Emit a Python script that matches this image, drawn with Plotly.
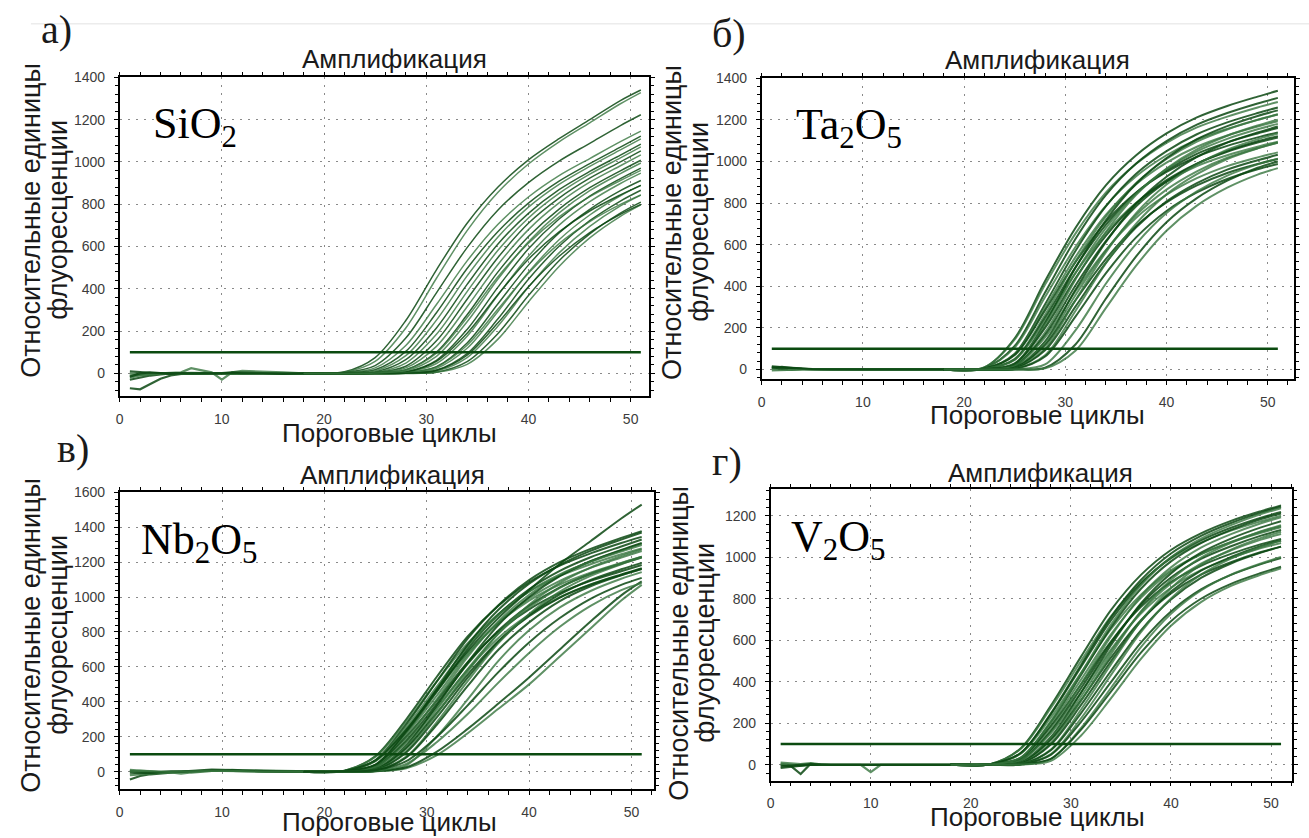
import plotly.graph_objects as go

W, H = 1309, 838
DX, DY = -3, -4  # small page offset compensation (pixels)

# ---------------- data ----------------
RISE_X = [18, 22, 25, 28, 31, 34, 37, 40, 43, 46, 49, 51]
BASE_X = [1, 2, 3, 4, 5, 6, 7, 8, 9, 10, 11, 12, 14, 16, 18, 20]
THRESH_X = [1, 51]
THRESHOLD = [100, 100]

X_TICKS = [0, 10, 20, 30, 40, 50]

# Panel а) SiO2
SIO2_CURVES = [
    [0, 8, 75, 250, 490, 710, 880, 1010, 1110, 1200, 1290, 1340],
    [0, 6, 57, 215, 450, 675, 855, 990, 1095, 1185, 1275, 1328],
    [0, 4, 37, 167, 381, 595, 772, 902, 1004, 1088, 1172, 1223],
    [0, 3, 26, 132, 326, 532, 704, 834, 935, 1016, 1096, 1146],
    [0, 2, 17, 104, 287, 496, 670, 805, 909, 992, 1070, 1122],
    [0, 1, 12, 84, 252, 461, 644, 786, 894, 979, 1057, 1109],
    [0, 1, 7, 65, 215, 421, 611, 757, 869, 955, 1032, 1084],
    [0, 0, 5, 49, 185, 387, 581, 735, 851, 942, 1019, 1071],
    [0, 0, 3, 34, 154, 351, 547, 710, 829, 923, 1000, 1052],
    [0, 0, 3, 26, 128, 315, 514, 680, 806, 904, 982, 1033],
    [0, 0, 2, 17, 101, 277, 479, 647, 777, 878, 958, 1008],
    [0, 0, 1, 12, 81, 244, 445, 622, 759, 864, 945, 995],
    [0, 0, 1, 7, 62, 208, 407, 589, 730, 838, 921, 971],
    [0, 0, 0, 5, 47, 176, 369, 554, 701, 812, 898, 947],
    [0, 0, 0, 3, 32, 144, 328, 512, 664, 776, 864, 912],
    [0, 0, 0, 2, 24, 119, 292, 478, 632, 749, 840, 889],
    [0, 0, 0, 2, 16, 94, 257, 445, 601, 722, 815, 866],
    [0, 0, 0, 1, 11, 75, 223, 408, 570, 695, 792, 843],
    [0, 0, 0, 1, 6, 56, 188, 368, 533, 660, 758, 810],
    [0, 0, 0, 0, 5, 43, 161, 338, 506, 641, 743, 797],
    [0, 0, 1, 6, 57, 190, 372, 540, 669, 768, 844, 889],
    [0, 0, 0, 3, 30, 133, 303, 474, 614, 718, 799, 844],
    [0, 0, 0, 1, 14, 86, 238, 410, 554, 666, 752, 799],
    [0, 0, 2, 16, 96, 264, 456, 616, 740, 836, 912, 960],
]
SIO2_BASE = [
    [-70, -75, -50, -25, -10, -2, 0, 0, 0, 0, 0, 2, 2, 0, 0, 0],
    [-10, -5, -3, 0, 2, 5, 25, 15, 5, -30, 5, 12, 10, 5, 0, 0],
    [-30, -20, -10, -5, 0, 0, 0, 0, 0, 0, 0, 0, 0, 0, 0, 0],
    [-20, -10, -5, -2, 0, 2, 3, 2, 0, -2, 0, 2, 3, 2, 0, 0],
    [10, 5, 3, 2, 0, 0, -2, 0, 0, 2, 5, 3, 2, 0, 0, 0],
    [0, -5, -2, 0, -3, -2, 0, 2, 0, 0, -2, 0, 2, 0, 0, 0],
    [-15, 0, 5, 0, -2, 0, 0, -3, 0, 0, 3, 0, 0, -2, 0, 0],
]

# Panel б) Ta2O5
TA2O5_CURVES = [
    [0, 10, 150, 425, 680, 885, 1030, 1135, 1212, 1267, 1312, 1340],
    [0, 10, 144, 408, 653, 850, 989, 1090, 1164, 1216, 1260, 1286],
    [0, 6, 113, 370, 627, 838, 990, 1098, 1177, 1233, 1279, 1306],
    [0, 6, 106, 348, 589, 787, 929, 1030, 1105, 1157, 1201, 1226],
    [0, 3, 76, 314, 570, 784, 941, 1050, 1131, 1188, 1233, 1260],
    [0, 3, 72, 297, 540, 743, 891, 995, 1071, 1125, 1168, 1193],
    [0, 3, 69, 284, 516, 710, 851, 950, 1023, 1075, 1116, 1140],
    [0, 2, 51, 263, 519, 735, 897, 1012, 1096, 1154, 1200, 1227],
    [0, 2, 48, 249, 491, 695, 849, 957, 1037, 1092, 1135, 1161],
    [0, 2, 46, 235, 463, 656, 801, 903, 978, 1030, 1071, 1095],
    [0, 1, 29, 223, 489, 717, 893, 1017, 1107, 1170, 1219, 1246],
    [0, 1, 27, 212, 464, 680, 846, 963, 1049, 1109, 1155, 1181],
    [0, 1, 26, 200, 438, 642, 799, 910, 990, 1047, 1091, 1115],
    [0, 1, 18, 178, 432, 661, 840, 966, 1058, 1124, 1173, 1201],
    [0, 1, 17, 166, 404, 617, 785, 903, 989, 1051, 1097, 1122],
    [0, 1, 16, 154, 376, 574, 730, 840, 920, 978, 1020, 1044],
    [0, 0, 9, 135, 383, 612, 797, 927, 1022, 1091, 1140, 1168],
    [0, 0, 8, 126, 357, 571, 743, 865, 953, 1018, 1064, 1090],
    [0, 0, 8, 117, 332, 530, 690, 803, 885, 945, 988, 1012],
    [0, 0, 5, 101, 333, 563, 752, 889, 986, 1057, 1107, 1135],
    [0, 0, 5, 92, 302, 512, 684, 808, 896, 961, 1006, 1032],
    [0, 0, 3, 68, 281, 510, 701, 842, 939, 1012, 1063, 1091],
    [0, 0, 2, 62, 254, 462, 635, 762, 851, 916, 963, 988],
    [0, 0, 1, 24, 188, 412, 604, 752, 856, 932, 986, 1014],
    [0, 0, 0, 8, 120, 340, 544, 708, 824, 908, 970, 1000],
    [0, 0, 0, 5, 90, 295, 499, 667, 788, 874, 937, 968],
]
TA2O5_BASE = [
    [15, 10, 5, 3, 2, 0, 0, 0, 0, 0, 0, 0, 0, 0, 0, 0],
    [-5, -3, 0, 0, 0, 0, 0, 0, 0, 0, 0, 0, 0, 0, 0, 0],
    [8, 12, 6, 2, 0, 0, 1, 0, 0, 0, 0, 0, 0, 0, 0, 0],
    [3, 0, -2, 0, 1, 0, 0, 0, -1, 0, 0, 0, 0, 0, 0, 0],
    [10, 5, 8, 4, 2, 1, 0, 0, 0, 0, 0, 0, 0, 0, 0, 0],
]

# Panel в) Nb2O5
NB2O5_CURVES = [
    [0, 6, 90, 300, 545, 775, 950, 1085, 1180, 1250, 1310, 1345],
    [0, 6, 86, 285, 518, 736, 903, 1031, 1121, 1188, 1245, 1278],
    [0, 4, 67, 271, 518, 762, 953, 1097, 1200, 1276, 1339, 1378],
    [0, 4, 60, 242, 463, 681, 851, 980, 1072, 1140, 1196, 1231],
    [0, 3, 40, 225, 460, 705, 900, 1045, 1150, 1228, 1290, 1330],
    [0, 3, 38, 214, 437, 670, 855, 993, 1093, 1167, 1226, 1264],
    [0, 3, 36, 200, 409, 627, 801, 930, 1024, 1093, 1148, 1184],
    [0, 2, 28, 186, 416, 658, 861, 1013, 1124, 1205, 1267, 1307],
    [0, 2, 26, 175, 391, 618, 809, 951, 1056, 1132, 1190, 1228],
    [0, 2, 25, 165, 370, 585, 766, 900, 999, 1071, 1126, 1162],
    [0, 2, 15, 150, 380, 625, 840, 1000, 1120, 1205, 1270, 1310],
    [0, 2, 14, 141, 357, 588, 790, 940, 1053, 1133, 1194, 1231],
    [0, 2, 13, 134, 338, 556, 748, 890, 997, 1072, 1130, 1166],
    [0, 1, 10, 118, 333, 573, 792, 956, 1081, 1169, 1235, 1274],
    [0, 1, 9, 110, 313, 538, 743, 897, 1015, 1098, 1159, 1196],
    [0, 1, 6, 86, 285, 518, 736, 903, 1031, 1121, 1188, 1226],
    [0, 1, 5, 81, 270, 491, 698, 855, 977, 1062, 1125, 1161],
    [0, 4, 63, 255, 488, 718, 897, 1033, 1130, 1202, 1261, 1298],
    [0, 3, 41, 232, 474, 726, 927, 1076, 1185, 1265, 1329, 1370],
    [0, 0, 4, 36, 203, 414, 635, 810, 941, 1035, 1105, 1143],
    [0, 5, 65, 240, 470, 690, 880, 1040, 1190, 1320, 1450, 1530],
    [0, 0, 2, 20, 95, 220, 360, 500, 660, 820, 980, 1070],
    [0, 0, 3, 25, 115, 245, 390, 540, 700, 860, 1010, 1090],
    [0, 0, 5, 45, 170, 330, 510, 680, 830, 950, 1040, 1080],
    [0, 1, 8, 60, 200, 380, 570, 740, 880, 990, 1070, 1110],
]
NB2O5_BASE = [
    [-45, -25, -15, -8, -5, -2, 0, 5, 8, 8, 5, 3, 2, 0, 0, 0],
    [-20, -15, -10, -5, -3, 0, 2, 5, 10, 12, 10, 8, 5, 3, 0, 0],
    [5, 0, -5, -2, 0, 0, 3, 6, 8, 10, 8, 5, 3, 2, 0, 0],
    [10, 5, 0, -3, -5, -12, -5, 0, 5, 5, 3, 2, 0, 0, 0, 0],
    [-5, -8, -5, 0, 2, 0, 5, 8, 12, 10, 8, 5, 3, 0, 0, 0],
    [0, 5, 3, 0, -2, 0, 2, 4, 6, 6, 4, 2, 0, 0, 0, 0],
]

# Panel г) V2O5
V2O5_CURVES = [
    [0, 4, 80, 285, 520, 745, 915, 1035, 1115, 1175, 1222, 1250],
    [0, 4, 77, 274, 499, 715, 878, 994, 1070, 1128, 1173, 1200],
    [0, 3, 57, 243, 470, 696, 872, 998, 1081, 1142, 1191, 1218],
    [0, 3, 53, 228, 442, 653, 819, 937, 1015, 1072, 1118, 1144],
    [0, 2, 34, 206, 431, 662, 848, 980, 1068, 1132, 1184, 1211],
    [0, 2, 33, 195, 409, 628, 804, 930, 1014, 1074, 1123, 1149],
    [0, 2, 31, 185, 387, 594, 761, 880, 959, 1016, 1063, 1088],
    [0, 1, 23, 170, 388, 619, 813, 951, 1046, 1111, 1164, 1192],
    [0, 1, 22, 161, 368, 587, 771, 902, 992, 1053, 1104, 1131],
    [0, 1, 21, 152, 348, 555, 729, 853, 938, 996, 1044, 1069],
    [0, 1, 12, 134, 346, 576, 778, 922, 1022, 1090, 1144, 1173],
    [0, 1, 11, 127, 328, 546, 737, 874, 969, 1033, 1085, 1112],
    [0, 1, 10, 120, 310, 516, 697, 826, 916, 976, 1025, 1051],
    [0, 0, 8, 105, 307, 532, 739, 891, 998, 1069, 1125, 1154],
    [0, 0, 7, 98, 287, 498, 692, 835, 935, 1001, 1054, 1081],
    [0, 0, 4, 74, 265, 484, 693, 851, 963, 1037, 1093, 1123],
    [0, 0, 3, 70, 248, 452, 648, 796, 900, 970, 1022, 1051],
    [0, 0, 3, 52, 223, 432, 639, 801, 916, 993, 1049, 1080],
    [0, 0, 2, 48, 206, 398, 589, 739, 845, 915, 967, 996],
    [0, 0, 2, 29, 176, 370, 567, 727, 840, 916, 970, 1001],
    [0, 0, 2, 28, 168, 352, 540, 692, 800, 872, 924, 954],
    [0, 0, 1, 19, 140, 320, 510, 670, 784, 862, 916, 947],
    [0, 3, 58, 248, 480, 710, 890, 1018, 1103, 1165, 1215, 1243],
    [0, 2, 35, 210, 440, 675, 865, 1000, 1090, 1155, 1208, 1236],
]
V2O5_BASE = [
    [0, -5, -45, 5, 0, 0, 0, 0, 0, 0, 0, 0, 0, 0, 0, 0],
    [5, 0, -5, 0, 0, 0, 0, 0, 0, -35, 0, 0, 0, 0, 0, 0],
    [-15, -10, -5, 0, 0, 0, 0, 0, 0, 0, 0, 0, 0, 0, 0, 0],
    [10, 8, 3, 8, 2, 0, 0, 0, 0, 0, 0, 0, 0, 0, 0, 0],
    [-8, -3, 0, 3, 0, 0, 0, 0, 0, 0, 0, 0, 0, 0, 0, 0],
]

PANEL_LETTERS = ["а)", "б)", "в)", "г)"]
MATERIALS = ["SiO<sub>2</sub>", "Ta<sub>2</sub>O<sub>5</sub>",
             "Nb<sub>2</sub>O<sub>5</sub>", "V<sub>2</sub>O<sub>5</sub>"]
TITLE = "Амплификация"
X_TITLE = "Пороговые циклы"
Y_TITLE_1 = "Относительные единицы"
Y_TITLE_2 = "флуоресценции"

# ---------------- layout geometry (pixels) ----------------
PANELS = [
    dict(curves=SIO2_CURVES, base=SIO2_BASE, px=(119, 650), py=(74, 396),
         xr=[0, 51.8], yr=[-108, 1400], width=1.5),
    dict(curves=TA2O5_CURVES, base=TA2O5_BASE, px=(763, 1297), py=(75, 379),
         xr=[0, 52.6], yr=[-48, 1400], width=2.0),
    dict(curves=NB2O5_CURVES, base=NB2O5_BASE, px=(119, 655), py=(493, 793),
         xr=[0, 52.2], yr=[-102, 1600], width=2.0),
    dict(curves=V2O5_CURVES, base=V2O5_BASE, px=(772, 1295), py=(490, 784),
         xr=[0, 52.1], yr=[-76, 1327], width=2.0),
]

SANS = "Liberation Sans, Arial, sans-serif"
NARROW = "Liberation Sans Narrow, Arial Narrow, Liberation Sans, sans-serif"
SERIF = "Liberation Serif, Times New Roman, serif"

DARK = "rgba(10,72,18,0.85)"
LIGHT = "rgba(55,118,62,0.80)"
THR_COLOR = "#0b4a10"


def fx(x):
    return (x + DX) / W


def fy(y):
    return 1 - (y + DY) / H


fig = go.Figure()
layout_axes = {}

for i, p in enumerate(PANELS):
    n = "" if i == 0 else str(i + 1)
    xa, ya = "x" + n, "y" + n
    for k, c in enumerate(p["base"]):
        fig.add_trace(go.Scatter(x=BASE_X, y=c, mode="lines", xaxis=xa, yaxis=ya,
                                 line=dict(color=DARK if k % 2 == 0 else LIGHT, width=2.2),
                                 showlegend=False, hoverinfo="skip"))
    for k, c in enumerate(p["curves"]):
        fig.add_trace(go.Scatter(x=RISE_X, y=c, mode="lines", xaxis=xa, yaxis=ya,
                                 line=dict(color=DARK if k % 2 == 0 else LIGHT,
                                           width=p["width"], shape="spline", smoothing=0.9),
                                 showlegend=False, hoverinfo="skip"))
    fig.add_trace(go.Scatter(x=THRESH_X, y=THRESHOLD, mode="lines", xaxis=xa, yaxis=ya,
                             line=dict(color=THR_COLOR, width=2.5),
                             showlegend=False, hoverinfo="skip"))

    common = dict(showgrid=True, gridcolor="#8a8a8a", gridwidth=1.3, griddash="2px,6px",
                  showline=True, linecolor="black", linewidth=1.5, mirror="allticks",
                  ticks="outside", ticklen=4, tickwidth=1.2, tickcolor="black",
                  zeroline=False,
                  tickfont=dict(family=NARROW, size=14, color="#3c3c3c"))
    layout_axes["xaxis" + n] = dict(
        common, range=p["xr"], domain=[fx(p["px"][0]), fx(p["px"][1])], anchor=ya,
        tickvals=X_TICKS, ticklabelstandoff=5,
        minor=dict(dtick=2, tick0=0, ticks="outside", ticklen=4, tickcolor="black",
                   tickwidth=1.2, showgrid=False))
    layout_axes["yaxis" + n] = dict(
        common, range=p["yr"], domain=[fy(p["py"][1]), fy(p["py"][0])], anchor=xa,
        dtick=200, tick0=0, ticklabelstandoff=6,
        minor=dict(dtick=40, tick0=0, ticks="outside", ticklen=3, tickcolor="black",
                   tickwidth=1.0, showgrid=False))


def ann(text, x, y, size, family, xanchor="center", angle=0, color="#1a1a1a"):
    return dict(text=text, x=fx(x), y=fy(y), xref="paper", yref="paper",
                showarrow=False, xanchor=xanchor, yanchor="middle", textangle=angle,
                font=dict(size=size, family=family, color=color))


annotations = []
title_pos = [(395, 55), (1040, 56), (393, 475), (1043, 473)]
xt_pos = [(390, 433), (1040, 415), (390, 826), (1040, 821)]
yt1_pos = [(30, 218), (673, 220), (30, 637), (680, 645)]
yt2_pos = [(57, 218), (700, 220), (57, 637), (706, 645)]
letter_pos = [(38, 26), (711, 30), (54, 449), (711, 462)]
mat_pos = [(150, 124), (795, 125), (138, 544), (790, 541)]
for i in range(4):
    annotations.append(ann(TITLE, *title_pos[i], 26, SANS))
    annotations.append(ann(X_TITLE, *xt_pos[i], 26, SANS))
    annotations.append(ann(Y_TITLE_1, *yt1_pos[i], 27, SANS, angle=-90))
    annotations.append(ann(Y_TITLE_2, *yt2_pos[i], 27, SANS, angle=-90))
    annotations.append(ann(PANEL_LETTERS[i], *letter_pos[i], 40, SERIF, xanchor="left"))
    annotations.append(ann(MATERIALS[i], *mat_pos[i], 44, SERIF, xanchor="left", color="#000"))

fig.update_layout(
    width=W, height=H, margin=dict(l=0, r=0, t=0, b=0),
    paper_bgcolor="white", plot_bgcolor="white",
    annotations=annotations,
    shapes=[dict(type="line", xref="paper", yref="paper", x0=fx(30), x1=1.0,
                 y0=fy(20), y1=fy(20), line=dict(color="#e2e2e2", width=1))],
    **layout_axes,
)

fig.write_html("out.html", config={"displayModeBar": False},
               post_script="document.body.style.margin='0';document.body.style.overflow='hidden';")
